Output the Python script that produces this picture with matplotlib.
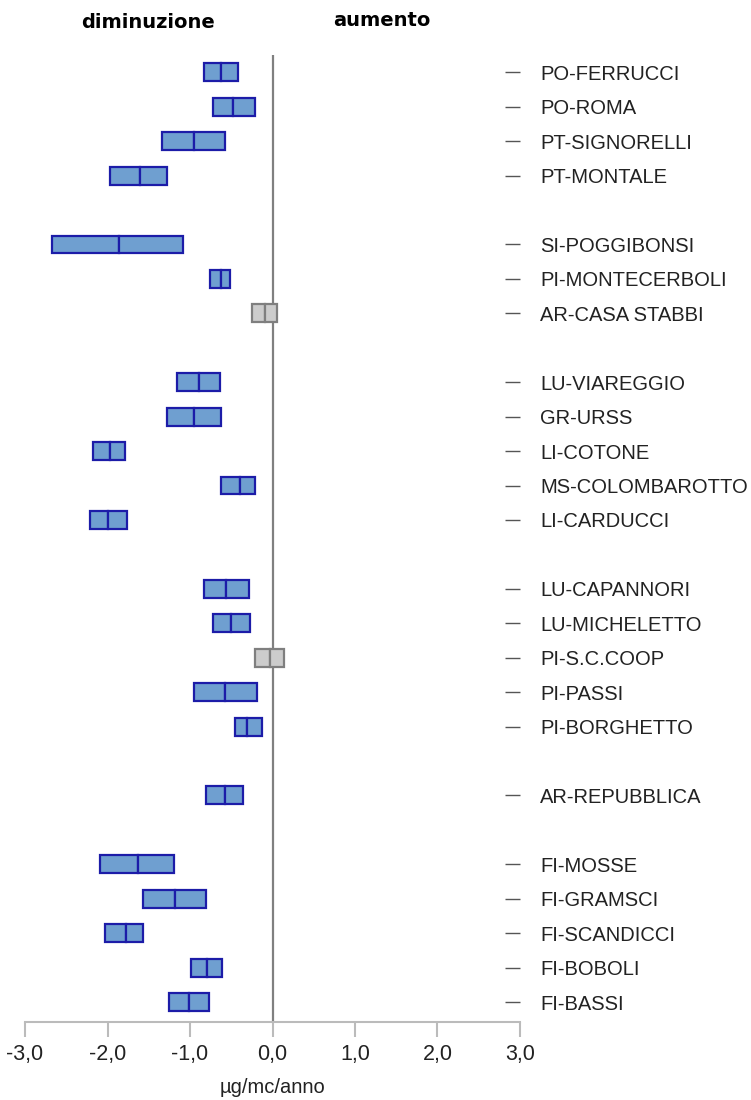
import matplotlib.pyplot as plt

# stazioni dall'alto verso il basso, per gruppi
stations = ["PO-FERRUCCI", "PO-ROMA", "PT-SIGNORELLI", "PT-MONTALE",
            "SI-POGGIBONSI", "PI-MONTECERBOLI", "AR-CASA STABBI",
            "LU-VIAREGGIO", "GR-URSS", "LI-COTONE", "MS-COLOMBAROTTO", "LI-CARDUCCI",
            "LU-CAPANNORI", "LU-MICHELETTO", "PI-S.C.COOP", "PI-PASSI", "PI-BORGHETTO",
            "AR-REPUBBLICA",
            "FI-MOSSE", "FI-GRAMSCI", "FI-SCANDICCI", "FI-BOBOLI", "FI-BASSI"]
group_sizes = [4, 3, 5, 5, 1, 5]

low = [-0.83, -0.72, -1.34, -1.97,
       -2.67, -0.76, -0.25,
       -1.16, -1.28, -2.17, -0.62, -2.21,
       -0.83, -0.72, -0.21, -0.95, -0.46,
       -0.81,
       -2.09, -1.57, -2.03, -0.99, -1.26]
mid = [-0.63, -0.48, -0.95, -1.61,
       -1.86, -0.62, -0.09,
       -0.89, -0.95, -1.97, -0.40, -1.99,
       -0.56, -0.50, -0.03, -0.58, -0.31,
       -0.57,
       -1.63, -1.18, -1.78, -0.79, -1.01]
high = [-0.42, -0.21, -0.57, -1.28,
        -1.08, -0.52, 0.06,
        -0.64, -0.62, -1.79, -0.21, -1.76,
        -0.29, -0.27, 0.14, -0.19, -0.13,
        -0.36,
        -1.20, -0.81, -1.57, -0.61, -0.77]
significant = [True, True, True, True,
               True, True, False,
               True, True, True, True, True,
               True, True, False, True, True,
               True,
               True, True, True, True, True]

xticks = [-3, -2, -1, 0, 1, 2, 3]
xticklabels = ["-3,0", "-2,0", "-1,0", "0,0", "1,0", "2,0", "3,0"]

# posizioni y con una riga vuota tra i gruppi
ypos = []
slot = 0
for g in group_sizes:
    for i in range(g):
        ypos.append(slot)
        slot += 1
    slot += 1

plt.rcParams['font.family'] = ['Liberation Sans', 'DejaVu Sans']

fig = plt.figure(figsize=(7.51, 11), dpi=100)
ax = fig.add_axes([0.0333, 0.0709, 0.6591, 0.879])

for y, lo, m, hi, sig in zip(ypos, low, mid, high, significant):
    fc = "#6f9fd0" if sig else "#cccccc"
    ec = "#1c1ca8" if sig else "#7f7f7f"
    ax.barh(y, m - lo, left=lo, height=0.52, color=fc, edgecolor=ec, linewidth=1.6, zorder=3)
    ax.barh(y, hi - m, left=m, height=0.52, color=fc, edgecolor=ec, linewidth=1.6, zorder=3)

ax.axvline(0, color="#808080", linewidth=1.6, zorder=2)

ax.set_xlim(-3, 3)
ax.set_ylim(27.58, -0.5)
ax.set_xticks(xticks)
ax.set_xticklabels(xticklabels, fontsize=15.5, color="#222222")
ax.tick_params(axis="x", length=11, width=1.5, color="#bbbbbb", pad=5)

ax.yaxis.tick_right()
ax.set_yticks(ypos)
ax.set_yticklabels(stations, fontsize=14.5, color="#222222")
ax.tick_params(axis="y", direction="in", length=11, width=1.0, color="#555555", pad=14.4)

for s in ["top", "left", "right"]:
    ax.spines[s].set_visible(False)
ax.spines["bottom"].set_color("#bbbbbb")
ax.spines["bottom"].set_linewidth(1.5)

ax.set_xlabel("µg/mc/anno", fontsize=14.5, color="#222222", labelpad=9)

fig.text(148 / 751, 1 - 23 / 1100, "diminuzione", ha="center", va="center",
         fontsize=14, fontweight="bold", family="DejaVu Sans")
fig.text(382 / 751, 1 - 20 / 1100, "aumento", ha="center", va="center",
         fontsize=14, fontweight="bold", family="DejaVu Sans")

fig.savefig("out.png", dpi=100)
